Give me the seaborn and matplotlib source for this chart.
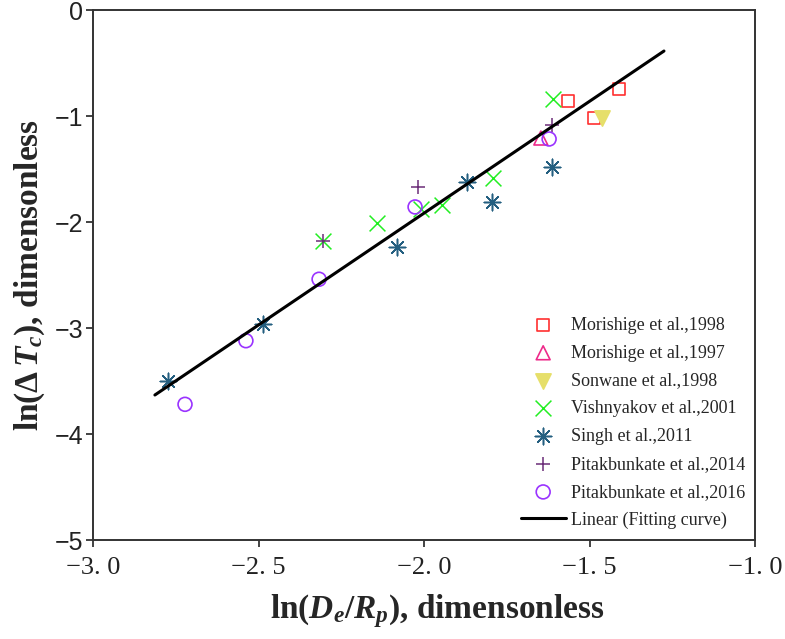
import pandas as pd
import seaborn as sns
import matplotlib.pyplot as plt

# values
mor98_x = [-1.565, -1.411, -1.486]
mor98_y = [-0.858, -0.745, -1.019]
mor97_x = [-1.647]
mor97_y = [-1.208]
son98_x = [-1.462]
son98_y = [-1.02]
vis01_x = [-1.610, -2.305, -2.142, -1.946, -1.792, -2.009]
vis01_y = [-0.84, -2.18, -2.01, -1.84, -1.585, -1.877]
sin11_x = [-1.613, -1.795, -2.082, -2.486, -2.773, -1.870]
sin11_y = [-1.48, -1.81, -2.236, -2.96, -3.50, -1.62]
pit14_x = [-2.018, -1.613, -2.305]
pit14_y = [-1.67, -1.085, -2.18]
pit16_x = [-1.622, -2.027, -2.317, -2.538, -2.722]
pit16_y = [-1.217, -1.858, -2.54, -3.12, -3.72]
fit_x = [-2.813, -1.275]
fit_y = [-3.632, -0.387]

x_ticks = [-3.0, -2.5, -2.0, -1.5, -1.0]
x_ticklabels = ["\u22123. 0", "\u22122. 5", "\u22122. 0", "\u22121. 5", "\u22121. 0"]
y_ticks = [0, -1, -2, -3, -4, -5]
y_ticklabels = ["0", "\u22121", "\u22122", "\u22123", "\u22124", "\u22125"]

series = [
    ("Morishige et al.,1998", mor98_x, mor98_y, "s", 75, "none", "#ff3030"),
    ("Morishige et al.,1997", mor97_x, mor97_y, "^", 100, "none", "#ee2a8a"),
    ("Sonwane et al.,1998", son98_x, son98_y, "v", 120, "#e6df6a", "#e6df6a"),
    ("Vishnyakov et al.,2001", vis01_x, vis01_y, "x", 130, None, "#22ee22"),
    ("Singh et al.,2011", sin11_x, sin11_y, (8, 2, 0), 140, None, "#245f80"),
    ("Pitakbunkate et al.,2014", pit14_x, pit14_y, "+", 100, None, "#6b2c78"),
    ("Pitakbunkate et al.,2016", pit16_x, pit16_y, "o", 100, "none", "#9a33ff"),
]

sns.set_style("ticks")
plt.rcParams['font.family'] = ['Liberation Serif', 'DejaVu Serif']
plt.rcParams['mathtext.fontset'] = 'custom'
plt.rcParams['mathtext.rm'] = 'Liberation Serif:bold'
plt.rcParams['mathtext.it'] = 'Liberation Serif:italic:bold'
plt.rcParams['mathtext.bf'] = 'Liberation Serif:bold'

fig = plt.figure(figsize=(7.85, 6.39), dpi=100)
ax = fig.add_axes([93 / 785, 99 / 639, 662 / 785, 530 / 639])

for name, xs, ys, mk, sz, fc, col in series:
    df = pd.DataFrame({"x": xs, "y": ys})
    if fc is None:
        sns.scatterplot(data=df, x="x", y="y", marker=mk, s=sz, color=col,
                        linewidth=1.1, label=name, ax=ax, zorder=3)
    else:
        sns.scatterplot(data=df, x="x", y="y", marker=mk, s=sz, facecolor=fc,
                        edgecolor=col, linewidth=1.2, label=name, ax=ax, zorder=3)

fit = pd.DataFrame({"x": fit_x, "y": fit_y})
sns.lineplot(data=fit, x="x", y="y", color="black", linewidth=2.2,
             label="Linear (Fitting curve)", ax=ax, zorder=4)

ax.set_xlim(-3.0, -1.0)
ax.set_ylim(-5, 0)
ax.set_xticks(x_ticks)
ax.set_xticklabels(x_ticklabels, fontsize=19, family='Liberation Serif')
ax.set_yticks(y_ticks)
ax.set_yticklabels(y_ticklabels, fontsize=18, family='Liberation Sans')
ax.tick_params(direction='out', length=5, width=1.2, colors='#222222', pad=2)
ax.tick_params(axis='x', pad=7)
for sp in ax.spines.values():
    sp.set_linewidth(1.4)
    sp.set_color('#333333')

ax.set_xlabel(r"ln($D_e$/$R_p$), dimensonless", fontsize=24, fontweight='bold')
ax.set_ylabel(r"ln($\Delta\,T_c$), dimensonless", fontsize=24, fontweight='bold')
ax.xaxis.set_label_coords(0.52, -0.098)
ax.yaxis.set_label_coords(-0.069, 0.5)

ax.legend(loc='upper left', bbox_to_anchor=(0.635, 0.435), frameon=False,
          fontsize=13, handlelength=2.5, handletextpad=0.3, labelspacing=0.6,
          borderaxespad=0)

fig.savefig("out.png", dpi=100)
